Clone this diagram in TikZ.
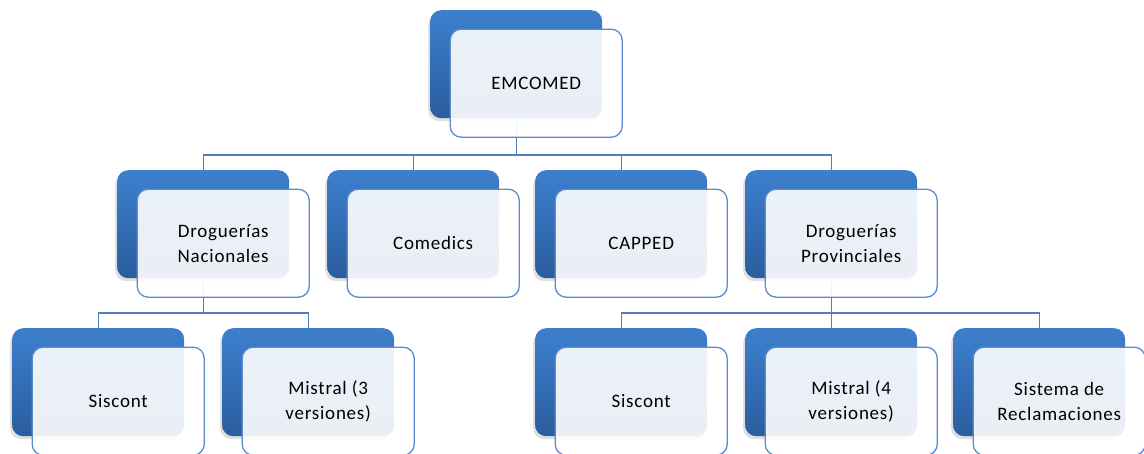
\documentclass[tikz,border=0pt]{standalone}
\usepackage{fontspec}
\setmainfont{Carlito}[LetterSpace=4]
\usetikzlibrary{shadows}
\pgfdeclarelayer{background}
\pgfsetlayers{background,main}
\definecolor{backtop}{HTML}{3D7FCD}
\definecolor{backbot}{HTML}{2A5D9E}
\definecolor{frontfill}{HTML}{FFFFFF}
\definecolor{frontdraw}{HTML}{5B8BCB}
\definecolor{conncol}{HTML}{4F7FBF}
\tikzset{
  backbox/.style={rectangle, rounded corners=11pt, minimum width=172pt, minimum height=108pt,
    anchor=north west, top color=backtop, bottom color=backbot, draw=none,
    drop shadow={shadow xshift=-2pt, shadow yshift=-3pt, opacity=0.25}},
  frontbox/.style={rectangle, rounded corners=11pt, minimum width=172pt, minimum height=108pt,
    draw=frontdraw, line width=1.3pt, fill=frontfill, fill opacity=0.9, text opacity=1,
    align=center, text=black, font=\fontsize{19}{25}\selectfont, inner sep=0pt},
  conn/.style={draw=conncol, line width=1.4pt}
}
\begin{document}
\begin{tikzpicture}[x=1pt,y=-1pt]
\useasboundingbox (0,0) rectangle (1144,453);
% level 1
\node[backbox] (emB) at (430,10) {};
% level 2
\node[backbox] (dnB) at (117,170) {};
\node[backbox] (coB) at (327,170) {};
\node[backbox] (caB) at (535,170) {};
\node[backbox] (dpB) at (745,170) {};
% level 3
\node[backbox] (s1B) at (12,328) {};
\node[backbox] (m3B) at (222,328) {};
\node[backbox] (s2B) at (535,328) {};
\node[backbox] (m4B) at (745,328) {};
\node[backbox] (srB) at (953,328) {};
% front boxes
\path (emB.center) ++(20,19) node[frontbox] (emF) {EMCOMED};
\path (dnB.center) ++(20,19) node[frontbox] (dnF) {Droguerías\\Nacionales};
\path (coB.center) ++(20,19) node[frontbox] (coF) {Comedics};
\path (caB.center) ++(20,19) node[frontbox] (caF) {CAPPED};
\path (dpB.center) ++(20,19) node[frontbox] (dpF) {Droguerías\\Provinciales};
\path (s1B.center) ++(20,19) node[frontbox] (s1F) {Siscont};
\path (m3B.center) ++(20,19) node[frontbox] (m3F) {Mistral (3\\versiones)};
\path (s2B.center) ++(20,19) node[frontbox] (s2F) {Siscont};
\path (m4B.center) ++(20,19) node[frontbox] (m4F) {Mistral (4\\versiones)};
\path (srB.center) ++(20,19) node[frontbox] (srF) {Sistema de\\Reclamaciones};
% connectors
\coordinate (bus1) at (0,155);
\coordinate (bus2) at (0,313);
\begin{pgfonlayer}{background}
\foreach \c in {dnB,coB,caB,dpB}
  \draw[conn] (emB.south) -- (emB.south |- bus1) -| (\c.north);
\foreach \c in {s1B,m3B}
  \draw[conn] (dnB.south) -- (dnB.south |- bus2) -| (\c.north);
\foreach \c in {s2B,m4B,srB}
  \draw[conn] (dpB.south) -- (dpB.south |- bus2) -| (\c.north);
\end{pgfonlayer}
\end{tikzpicture}
\end{document}
